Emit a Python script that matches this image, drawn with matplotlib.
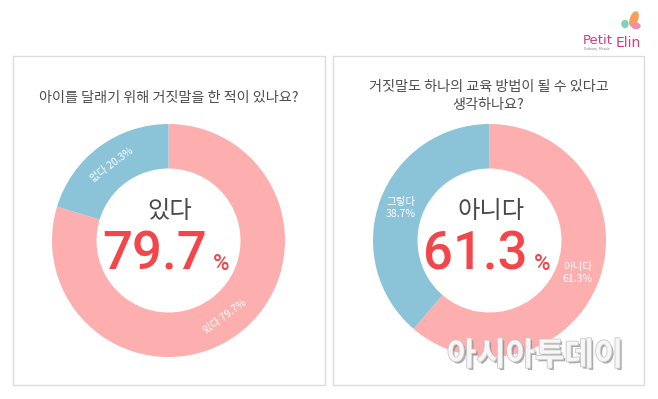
import numpy as np
import matplotlib
matplotlib.use("Agg")
import matplotlib.pyplot as plt
import matplotlib.patheffects as pe
from matplotlib import font_manager
from matplotlib.patches import Rectangle, Ellipse

KR = "Noto Sans CJK KR"
installed = {f.name for f in font_manager.fontManager.ttflist}
NUM_FONT = "Roboto" if "Roboto" in installed else "Noto Sans"

# survey data
titles = [
    "아이를 달래기 위해 거짓말을 한 적이 있나요?",
    "거짓말도 하나의 교육 방법이 될 수 있다고\n생각하나요?",
]
answers = [["있다", "없다"], ["아니다", "그렇다"]]
shares = [[79.7, 20.3], [61.3, 38.7]]
headline = ["있다", "아니다"]
headline_value = ["79.7", "61.3"]

PINK = "#fdaeae"
BLUE = "#8bc3d8"
RED = "#f1474b"
GREY_TXT = "#4c4c4c"

W, H = 658, 399
fig = plt.figure(figsize=(W / 100, H / 100), dpi=100)
ax = fig.add_axes([0, 0, 1, 1])


def py(y):
    # pixel row (top origin) -> data y
    return H - y


panels = [(13, 56, 312, 329), (333, 56, 311, 329)]
centers = [(168.5, 240.5), (489.5, 240.5)]
R_OUT, R_IN = 116.5, 72.0
title_y = [98, 96]
rotate_labels = [True, False]

for i in range(2):
    x0, y0, w, h = panels[i]
    ax.add_patch(Rectangle((x0, py(y0 + h)), w, h, facecolor="white",
                           edgecolor="#dcdcdc", linewidth=1.0, zorder=0))
    cx, cy = centers[i]
    ax.text(x0 + w / 2, py(title_y[i]), titles[i], ha="center", va="center",
            fontsize=10.2, color=GREY_TXT, family=KR, linespacing=1.3)

    wedges, _ = ax.pie(shares[i], colors=[PINK, BLUE], startangle=90,
                       counterclock=False, center=(cx, py(cy)), radius=R_OUT,
                       wedgeprops=dict(width=R_OUT - R_IN, linewidth=0))

    r_mid = (R_OUT + R_IN) / 2
    for wdg, name, val in zip(wedges, answers[i], shares[i]):
        ang = (wdg.theta1 + wdg.theta2) / 2
        lx = cx + r_mid * np.cos(np.radians(ang))
        ly = py(cy) + r_mid * np.sin(np.radians(ang))
        if rotate_labels[i]:
            rot = ang - 90 if np.sin(np.radians(ang)) >= 0 else ang + 90
            ax.text(lx, ly, f"{name} {val}%", ha="center", va="center",
                    rotation=rot, rotation_mode="anchor", fontsize=7.4,
                    color="white", family=[KR, "DejaVu Sans"])
        else:
            ax.text(lx, ly, f"{name}\n{val}%", ha="center", va="center",
                    fontsize=7.6, color="white", family=[KR, "DejaVu Sans"],
                    linespacing=1.25)

    ax.text(cx + 1.5, py(211), headline[i], ha="center", va="center",
            fontsize=17.5, color="#4a4a4a", family=KR)
    ax.text(cx + 38, py(270), headline_value[i], ha="right", va="baseline",
            fontsize=38, fontweight="medium", color=RED, family=NUM_FONT)
    ax.text(cx + 44, py(270), "%", ha="left", va="baseline",
            fontsize=16, fontweight="medium", color=RED, family=NUM_FONT)

# brand logo, top right
ax.text(583, py(44), "Petit", ha="left", va="baseline", fontsize=9.5,
        color="#d43c7c", family="DejaVu Sans")
ax.text(616, py(47), "Elin", ha="left", va="baseline", fontsize=10,
        color="#d43c7c", family="DejaVu Sans")
ax.text(584, py(50), "Ordinary  Miracle", ha="left", va="baseline",
        fontsize=2.2, color="#777777")
ax.add_patch(Ellipse((634, py(19)), 7, 15, angle=-20, color="#f5a05a"))
ax.add_patch(Ellipse((625, py(24)), 6, 7, color="#7fd0c0"))
ax.add_patch(Ellipse((636, py(26)), 8, 5, color="#f08cb4"))

# newspaper watermark
ax.text(535, py(356), "아시아투데이", ha="center", va="center", fontsize=23,
        fontweight="bold", color="#f6f6f6", family=KR, zorder=10,
        path_effects=[pe.withSimplePatchShadow(offset=(1.5, -1.5),
                                               shadow_rgbFace="#888888",
                                               alpha=0.7),
                      pe.Stroke(linewidth=1.2, foreground="#c8c8c8"),
                      pe.Normal()])

ax.set_xlim(0, W)
ax.set_ylim(0, H)
ax.set_aspect("auto")
ax.axis("off")

fig.savefig("out.png", dpi=100, facecolor="white")
